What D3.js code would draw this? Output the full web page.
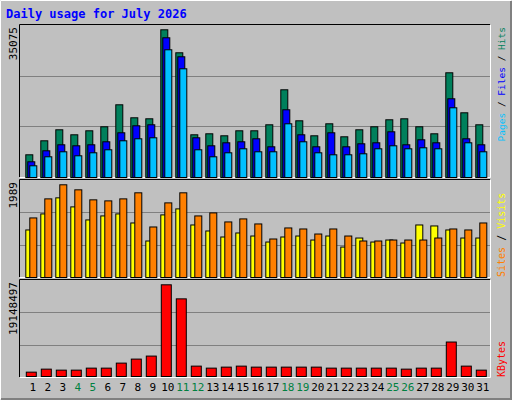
<!DOCTYPE html><html><head><script src="https://cdn.jsdelivr.net/npm/d3@7"></script>
<style>body{margin:0;background:#fff}</style></head><body><script>
const days=d3.range(1,32);
const weekends=[4,5,11,12,18,19,25,26];
const hits=[5391,8716,11329,10141,11091,12041,17266,14179,13941,35075,29616,10141,10379,9904,11091,11091,12516,20829,13466,9904,12754,9666,11329,12041,13704,13941,12041,10379,24866,15366,12516];
const files=[3729,6341,7766,7529,7766,8479,10616,12279,12516,33179,28666,9429,7529,8241,8479,9191,7291,16079,10141,7291,10616,7291,8004,8241,10854,7766,8954,8241,18691,9191,7766];
const pages=[2779,4916,6104,5154,5866,6579,8716,9191,9429,30329,25816,6579,4916,5866,6816,6104,6104,12754,8479,5866,5391,5391,5629,6816,7529,6816,7054,6816,16554,8241,6104];
const visits=[1020,1364,1709,1515,1235,1321,1364,1170,783,1343,1472,1127,998,869,955,890,761,869,890,804,890,653,847,761,804,740,1127,1106,1020,847,847];
const sites=[1278,1687,1989,1881,1666,1644,1687,1817,1084,1601,1817,1321,1386,1192,1257,1149,826,1063,1041,933,1041,890,783,783,804,804,804,847,1041,1020,1170];
const kbytes=[908500,1537470,1327815,1327815,1747125,1747125,2795400,3634020,4262985,19148497,16213320,2166435,1747125,1956780,2166435,1956780,1956780,1956780,1956780,1956780,1747125,1747125,1747125,1747125,1747125,1537470,1747125,1747125,7198155,2166435,1327815];
const W=512,H=400;
const svg=d3.select("body").append("svg").attr("width",W).attr("height",H).style("font-family","'DejaVu Sans Mono',monospace");
svg.append("rect").attr("width",W).attr("height",H).attr("fill","#c0c0c0");
svg.append("path").attr("d","M0.5,399.5V0.5H511.5").attr("stroke","#fff").attr("fill","none");
svg.append("path").attr("d","M1,399H511V1").attr("stroke","#808080").attr("stroke-width",2).attr("fill","none");
svg.append("text").attr("x",6).attr("y",18).attr("fill","#0000ff").attr("font-weight","bold").attr("font-size",12).text("Daily usage for July 2026");
const x=d3.scaleLinear().domain([1,31]).range([25.3,475.3]);
const L=20,R=490;
const panels=[{t:25,b:177},{t:180,b:277},{t:280,b:377}];
panels.forEach(p=>{
  svg.append("rect").attr("x",L).attr("y",p.t).attr("width",R-L).attr("height",p.b-p.t).attr("fill","#c0c0c0");
  [1/3,2/3].forEach(f=>{const yy=Math.round(p.t+(p.b-p.t)*f)+0.5;
    svg.append("line").attr("x1",L).attr("x2",R).attr("y1",yy).attr("y2",yy).attr("stroke","#808080");});
  svg.append("path").attr("d",`M${L-0.5},${p.b}V${p.t-0.5}H${R}`).attr("stroke","#000").attr("fill","none");
  svg.append("path").attr("d",`M${L},${p.b+0.5}H${R+0.5}V${p.t}`).attr("stroke","#fff").attr("fill","none");
});
const yT=d3.scaleLinear().domain([0,35075]).range([177,29.3]);
const yM=d3.scaleLinear().domain([0,1989]).range([277,184.3]);
const yB=d3.scaleLinear().domain([0,19148497]).range([376,284.3]);
function bars(data,y,off,w,color){
  svg.append("g").selectAll("rect").data(data).join("rect")
   .attr("x",(d,i)=>x(days[i])+off+0.5).attr("y",d=>y(d)+0.5)
   .attr("width",w).attr("height",d=>y.range()[0]-y(d))
   .attr("fill",color).attr("stroke","#000").attr("stroke-width",1);
}
bars(hits,yT,0,7,"#00805c");
bars(files,yT,2,7,"#0000ff");
bars(pages,yT,4,7,"#00c0ff");
bars(visits,yM,0,7,"#ffff00");
bars(sites,yM,4,7,"#ff8000");
bars(kbytes,yB,0.5,10,"#ff0000");
svg.append("g").selectAll("text").data(days).join("text")
 .attr("x",d=>x(d)+7.5).attr("y",391).attr("text-anchor","middle").attr("font-size",11)
 .attr("fill",d=>weekends.includes(d)?"#008040":"#000").text(d=>d);
function vlab(txt,yTop){svg.append("text").attr("transform",`translate(17,${yTop}) rotate(-90)`).attr("text-anchor","end").attr("font-size",11).text(txt);}
vlab("35075",27);vlab("1989",182);vlab("19148497",282);
function rl(parts,yPos,anchor,fs){const t=svg.append("text").attr("transform",`translate(505,${yPos}) rotate(-90)`).attr("font-size",fs).attr("text-anchor",anchor);
  parts.forEach(p=>t.append("tspan").attr("fill",p[1]).text(p[0]));}
rl([["Pages","#00c0ff"],[" / ","#000"],["Files","#0000ff"],[" / ","#000"],["Hits","#00805c"]],27,"end",9.5);
rl([["Sites","#ff8000"],[" / ","#000"],["Visits","#ffff00"]],277,"start",10);
rl([["KBytes","#ff0000"]],377,"start",10);
</script></body></html>
